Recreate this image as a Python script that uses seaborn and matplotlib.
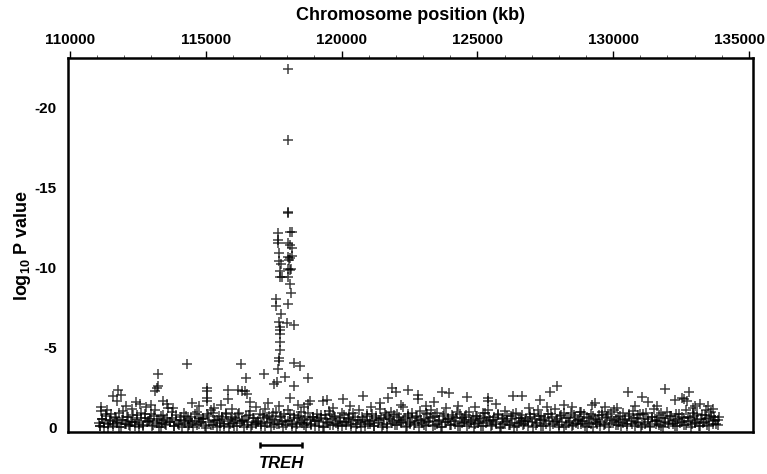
"""
treh_assoc.py
Association signal around TREH: log10 P per SNP vs chromosome position (kb).
"""

import pandas as pd
import matplotlib.pyplot as plt
import matplotlib.ticker as mticker
import matplotlib.transforms as mtransforms
import seaborn as sns

sns.set_theme(style='white')
plt.rcParams['font.family'] = ['Liberation Sans', 'DejaVu Sans']
plt.rcParams['mathtext.fontset'] = 'custom'
plt.rcParams['mathtext.bf'] = 'Liberation Sans:bold'
plt.rcParams['axes.unicode_minus'] = False
plt.rcParams.update({'text.color': 'black', 'axes.labelcolor': 'black',
                     'xtick.color': 'black', 'ytick.color': 'black'})

# ── data (positions in kb, log10 P values) ───────────────────────────────────
base_pos = [
    111050, 111120, 111180, 111260, 111310, 111390, 111470, 111520, 111600, 111690,
    111740, 111810, 111900, 111950, 112030, 112110, 112170, 112240, 112330, 112380,
    112460, 112540, 112610, 112690, 112760, 112840,
    112910, 112980, 113050, 113130, 113190, 113260, 113340, 113400, 113470, 113550,
    113610, 113690, 113760, 113820, 113900, 113970, 114040, 114120, 114180, 114250,
    114330, 114390, 114460, 114540, 114610, 114690, 114750, 114830,
    114900, 114970, 115040, 115110, 115180, 115260, 115320, 115400, 115470, 115540,
    115610, 115680, 115760, 115820, 115900, 115970, 116040, 116110, 116190, 116250,
    116330, 116400, 116470, 116540, 116610, 116690, 116760, 116840,
    116910, 116980, 117050, 117130, 117190, 117260, 117330, 117400, 117470, 117540,
    117610, 117680, 117750, 117820, 117890, 117960, 118030, 118100, 118170, 118240,
    118310, 118380, 118450, 118520, 118600, 118670, 118740, 118820,
    118890, 118960, 119030, 119100, 119170, 119240, 119310, 119380, 119450, 119520,
    119590, 119660, 119730, 119800, 119870, 119940, 120010, 120080, 120150, 120220,
    120290, 120360, 120430, 120500, 120570, 120640, 120710, 120780, 120850,
    120920, 120990, 121060, 121130, 121200, 121270, 121340, 121410, 121480, 121550,
    121620, 121690, 121760, 121830, 121900, 121970, 122040, 122110, 122180, 122250,
    122320, 122390, 122460, 122530, 122600, 122670, 122740, 122810, 122880,
    122950, 123020, 123090, 123160, 123230, 123300, 123370, 123440, 123510, 123580,
    123650, 123720, 123790, 123860, 123930, 124000, 124070, 124140, 124210, 124280,
    124350, 124420, 124490, 124560, 124630, 124700, 124770, 124840,
    124910, 124980, 125050, 125120, 125190, 125260, 125330, 125400, 125470, 125540,
    125610, 125680, 125750, 125820, 125890, 125960, 126030, 126100, 126170, 126240,
    126310, 126380, 126450, 126520, 126590, 126660, 126730, 126800, 126870,
    126940, 127010, 127080, 127150, 127220, 127290, 127360, 127430, 127500, 127570,
    127640, 127710, 127780, 127850, 127920, 127990, 128060, 128130, 128200, 128270,
    128340, 128410, 128480, 128550, 128620, 128690, 128760, 128830,
    128900, 128970, 129040, 129110, 129180, 129250, 129320, 129390, 129460, 129530,
    129600, 129670, 129740, 129810, 129880, 129950, 130020, 130090, 130160, 130230,
    130300, 130370, 130440, 130510, 130580, 130650, 130720, 130790, 130860,
    130930, 131000, 131070, 131140, 131210, 131280, 131350, 131420, 131490, 131560,
    131630, 131700, 131770, 131840, 131910, 131980, 132050, 132120, 132190, 132260,
    132330, 132400, 132470, 132540, 132610, 132680, 132750, 132820, 132890,
    132960, 133030, 133100, 133170, 133240, 133310, 133380, 133450, 133520, 133590,
    133660, 133730, 133800, 133870,
]
base_logp = [
    -0.31, -0.12, -0.55, -0.08, -0.72, -0.24, -0.41, -0.9, -0.15, -0.63,
    -0.33, -0.05, -0.48, -1.05, -0.22, -0.7, -0.18, -0.38, -0.84, -0.1,
    -0.52, -0.27, -0.95, -0.14, -0.6, -0.35,
    -0.44, -0.9, -0.2, -1.1, -0.58, -0.07, -0.75, -0.3, -0.5, -0.16,
    -1.25, -0.4, -0.65, -0.11, -0.82, -0.26, -0.47, -0.06, -0.92, -0.34,
    -0.58, -0.19, -0.7, -0.09, -0.43, -1.0, -0.28, -0.55,
    -0.62, -0.13, -0.85, -0.37, -1.15, -0.21, -0.5, -0.04, -0.77, -0.32,
    -0.58, -0.15, -0.96, -0.42, -0.24, -0.68, -0.1, -0.53, -0.86, -0.29,
    -0.45, -0.08, -0.73, -0.36, -1.05, -0.18, -0.6, -0.25,
    -0.4, -0.85, -0.14, -0.6, -1.2, -0.3, -0.72, -0.05, -0.95, -0.48,
    -0.22, -1.35, -0.66, -0.35, -0.9, -0.17, -1.1, -0.52, -0.28, -0.8,
    -0.09, -0.62, -0.4, -1.0, -0.2, -0.7, -0.33, -0.55,
    -0.26, -0.7, -0.12, -0.9, -0.44, -0.6, -0.07, -0.82, -0.35, -1.05,
    -0.19, -0.55, -0.75, -0.3, -0.1, -0.65, -0.95, -0.4, -0.2, -0.58,
    -0.85, -0.14, -0.48, -0.7, -0.28, -1.1, -0.06, -0.52, -0.36,
    -0.75, -0.22, -0.46, -0.9, -0.13, -0.62, -0.34, -1.2, -0.05, -0.56,
    -0.8, -0.27, -0.68, -1.0, -0.41, -0.16, -0.88, -0.5, -0.3, -1.3,
    -0.6, -0.1, -0.77, -0.38, -0.95, -0.2, -0.66, -0.45, -1.05,
    -0.3, -0.58, -0.12, -0.85, -0.4, -1.1, -0.66, -0.2, -0.92, -0.48,
    -0.08, -0.73, -0.35, -1.25, -0.55, -0.18, -0.82, -0.42, -0.64, -0.1,
    -0.9, -0.29, -0.5, -0.7, -0.15, -1.0, -0.38, -0.6,
    -0.25, -0.78, -0.44, -0.1, -0.95, -0.6, -0.32, -1.15, -0.52, -0.16,
    -0.7, -0.38, -0.88, -0.06, -0.58, -0.28, -1.05, -0.46, -0.2, -0.74,
    -0.9, -0.34, -0.12, -0.62, -0.43, -0.82, -0.24, -0.55, -0.15,
    -0.68, -0.35, -0.9, -0.2, -1.1, -0.5, -0.76, -0.14, -0.6, -1.3,
    -0.42, -0.86, -0.26, -1.2, -0.55, -0.08, -0.72, -0.38, -0.94, -0.18,
    -0.62, -0.45, -0.1, -0.8, -0.3, -0.52, -0.98, -0.22,
    -0.45, -0.12, -0.7, -0.33, -0.88, -0.05, -0.56, -0.24, -0.8, -0.4,
    -1.0, -0.16, -0.62, -0.9, -0.3, -0.48, -1.15, -0.2, -0.7, -0.36,
    -0.1, -0.95, -0.54, -0.28, -0.78, -0.42, -1.05, -0.15, -0.6,
    -0.32, -0.85, -0.18, -0.58, -0.96, -0.4, -0.07, -0.7, -1.2, -0.26,
    -0.5, -0.82, -0.14, -0.64, -0.36, -1.0, -0.22, -0.76, -0.46, -0.1,
    -0.9, -0.55, -0.3, -0.68, -0.17, -1.1, -0.42, -0.6, -0.25,
    -0.72, -0.38, -0.9, -0.12, -0.55, -0.3, -0.8, -0.2, -0.62, -1.0,
    -0.44, -0.66, -0.28, -0.5,
]

low_pos = [
    111100, 111240, 111410, 111570, 111730, 111890, 112050, 112210, 112380, 112530,
    112700, 112860, 113030, 113190, 113360, 113510, 113690, 113840, 114020, 114180,
    114350, 114510, 114670, 114840, 115020, 115180, 115340, 115510, 115670, 115840,
    116010, 116160, 116330, 116500, 116670, 116840, 117020, 117170, 117350, 117510,
    117680, 117850, 118010, 118180, 118360, 118530, 118690, 118870, 119030, 119180,
    119360, 119510, 119680, 119860, 120010, 120180, 120360, 120520, 120690, 120850,
    121030, 121180, 121360, 121510, 121690, 121850, 122030, 122190, 122360, 122510,
    122690, 122850, 123030, 123180, 123350, 123520, 123680, 123850, 124030, 124180,
    124360, 124510, 124690, 124860, 125030, 125190, 125360, 125510, 125680, 125860,
    126020, 126190, 126350, 126530, 126680, 126850, 127030, 127180, 127360, 127510,
    127690, 127850, 128020, 128190, 128360, 128510, 128690, 128860, 129030, 129180,
    129350, 129520, 129690, 129850, 130030, 130180, 130350, 130510, 130690, 130850,
    131020, 131190, 131350, 131530, 131680, 131850, 132020, 132190, 132360, 132520,
    132690, 132850, 133020, 133190, 133350, 133520, 133690, 133860,
]
low_logp = [
    -0.12, -0.3, -0.05, -0.22, -0.4, -0.09, -0.27, -0.15, -0.35, -0.06,
    -0.2, -0.44, -0.1, -0.31, -0.04, -0.25, -0.38, -0.13, -0.18, -0.46,
    -0.08, -0.29, -0.16, -0.36, -0.03, -0.21, -0.42, -0.11, -0.26, -0.07,
    -0.33, -0.14, -0.45, -0.19, -0.05, -0.3, -0.23, -0.1, -0.39, -0.17,
    -0.28, -0.06, -0.41, -0.12, -0.24, -0.34, -0.08, -0.2, -0.43, -0.15,
    -0.05, -0.32, -0.18, -0.27, -0.1, -0.4, -0.22, -0.07, -0.36, -0.14,
    -0.25, -0.11, -0.47, -0.19, -0.04, -0.3, -0.16, -0.38, -0.09, -0.23,
    -0.34, -0.06, -0.2, -0.42, -0.13, -0.28, -0.05, -0.35, -0.17, -0.26,
    -0.1, -0.4, -0.22, -0.07, -0.31, -0.15, -0.44, -0.12, -0.24, -0.03,
    -0.37, -0.18, -0.09, -0.29, -0.21, -0.46, -0.06, -0.33, -0.14, -0.25,
    -0.11, -0.39, -0.2, -0.05, -0.32, -0.16, -0.27, -0.42, -0.08, -0.23,
    -0.35, -0.12, -0.26, -0.04, -0.41, -0.18, -0.3, -0.1, -0.22, -0.37,
    -0.07, -0.28, -0.15, -0.43, -0.2, -0.09, -0.33, -0.24, -0.13, -0.38,
    -0.19, -0.05, -0.31, -0.14, -0.4, -0.1, -0.26, -0.17,
]

dense_pos = [
    111175, 111315, 111485, 111645, 111805, 111965, 112125, 112285, 112455, 112605,
    112775, 112935, 113105, 113265, 113435, 113585, 113765, 113915, 114095, 114255,
    114425, 114585, 114745, 114915, 115095, 115255, 115415, 115585, 115745, 115915,
    116085, 116235, 116405, 116575, 116745, 116915, 117095, 117245, 117425, 117585,
    117755, 117925, 118085, 118255, 118435, 118605, 118765, 118945, 119105, 119255,
    119435, 119585, 119755, 119935, 120085, 120255, 120435, 120595, 120765, 120925,
    121105, 121255, 121435, 121585, 121765, 121925, 122105, 122265, 122435, 122585,
    122765, 122925, 123105, 123255, 123425, 123595, 123755, 123925, 124105, 124255,
    124435, 124585, 124765, 124935, 125105, 125265, 125435, 125585, 125755, 125935,
    126095, 126265, 126425, 126605, 126755, 126925, 127105, 127255, 127435, 127585,
    127765, 127925, 128095, 128265, 128435, 128585, 128765, 128935, 129105, 129255,
    129425, 129595, 129765, 129925, 130105, 130255, 130425, 130585, 130765, 130925,
    131095, 131265, 131425, 131605, 131755, 131925, 132095, 132265, 132435, 132595,
    132765, 132925, 133095, 133265, 133425, 133595, 133765, 133900,
]
dense_logp = [
    -0.58, -0.85, -0.47, -0.66, -0.93, -0.52, -0.71, -0.39, -0.8, -0.62,
    -0.9, -0.55, -0.74, -0.45, -0.83, -0.6, -0.97, -0.5, -0.69, -0.78,
    -0.42, -0.88, -0.63, -0.54, -0.76, -0.95, -0.48, -0.7, -0.86, -0.57,
    -0.65, -0.92, -0.5, -0.79, -0.61, -0.44, -0.84, -0.68, -0.56, -0.99,
    -0.73, -0.46, -0.88, -0.6, -0.77, -0.52, -0.94, -0.66, -0.49, -0.82,
    -0.58, -0.9, -0.67, -0.45, -0.8, -0.62, -0.96, -0.53, -0.71, -0.87,
    -0.49, -0.75, -0.6, -0.92, -0.55, -0.83, -0.68, -0.47, -0.9, -0.64,
    -0.78, -0.52, -0.95, -0.61, -0.73, -0.44, -0.86, -0.57, -0.69, -0.98,
    -0.63, -0.84, -0.5, -0.76, -0.58, -0.91, -0.66, -0.48, -0.81, -0.6,
    -0.72, -0.55, -0.93, -0.64, -0.46, -0.85, -0.59, -0.77, -0.52, -0.89,
    -0.67, -0.43, -0.8, -0.61, -0.94, -0.7, -0.54, -0.87, -0.63, -0.75,
    -0.5, -0.82, -0.66, -0.97, -0.57, -0.73, -0.48, -0.9, -0.62, -0.79,
    -0.85, -0.56, -0.71, -0.45, -0.92, -0.64, -0.77, -0.51, -0.88, -0.6,
    -0.69, -0.95, -0.53, -0.8, -0.58, -0.74, -0.47, -0.66,
]

mid_pos = [
    111141, 111141, 111583, 111767, 111878, 111730, 112430, 112577, 112050, 112280,
    111350, 112800, 113130, 113200, 113240, 113240, 113571, 113000, 113420, 113800,
    114308, 114500, 114760, 115044, 115044, 115044, 115030, 115300, 115560, 115817,
    115817, 115980, 116185, 116296, 116333, 116443, 116480, 116517, 116620, 116850,
    117143, 117300, 117511, 117622, 117658, 117700, 117700, 117720, 117730, 117730,
    117730, 117730, 117769, 117916, 117990, 118247, 118247, 118468, 118247, 118763,
    118763, 118836, 119315, 119463, 118100, 118400, 118600, 119700, 120052, 120300,
    120788, 121100, 121400, 121708, 121856, 122003, 122445, 122813, 122813, 122200,
    123100, 123400, 123697, 123955, 124300, 124617, 124900, 125390, 125390, 125700,
    126310, 126642, 126900, 127305, 127673, 127931, 128200, 128500, 128815, 129220,
    129330, 129700, 130140, 130545, 130800, 131060, 131280, 131600, 131907, 132275,
    132533, 132791, 132940, 133200, 133500, 133675, 132600, 132700, 133000, 133400,
]
mid_logp = [
    -1.3, -1.05, -2.0, -2.4, -2.05, -1.7, -1.6, -1.5, -1.35, -1.2,
    -1.15, -1.3, -2.3, -2.5, -2.6, -3.4, -1.5, -1.45, -1.7, -1.25,
    -4.0, -1.55, -1.35, -2.5, -2.3, -1.9, -1.7, -1.25, -1.45, -2.4,
    -1.8, -1.2, -2.35, -4.0, -2.3, -2.3, -3.1, -2.1, -1.6, -1.3,
    -3.4, -1.55, -2.75, -2.9, -3.7, -4.4, -4.2, -4.9, -5.4, -5.9,
    -6.1, -6.3, -7.1, -3.2, -6.55, -6.45, -4.05, -3.9, -2.6, -3.1,
    -1.5, -1.7, -1.7, -1.75, -1.9, -1.45, -1.3, -1.25, -1.8, -1.4,
    -2.0, -1.3, -1.55, -1.9, -2.5, -2.25, -2.35, -2.05, -1.8, -1.45,
    -1.35, -1.6, -2.25, -2.2, -1.4, -1.95, -1.3, -1.9, -1.7, -1.5,
    -2.0, -2.0, -1.25, -1.75, -2.25, -2.6, -1.45, -1.3, -1.0, -1.45,
    -1.55, -1.3, -1.25, -2.25, -1.4, -1.95, -1.6, -1.35, -2.45, -1.75,
    -1.9, -2.25, -1.25, -1.5, -1.35, -1.2, -1.8, -1.7, -1.4, -1.1,
]

peak_pos = [
    118038, 118038, 118038, 118038, 117647, 118100, 118185, 117647, 117672, 118038,
    118100, 118160, 117708, 118038, 118100, 118160, 118070, 117708, 117770, 118038,
    118100, 118135, 117733, 117733, 117794, 118038, 118100, 118125, 117586, 117586,
    118038, 117700,
]
peak_logp = [
    -22.4, -18.0, -13.4, -13.5, -12.2, -12.25, -12.25, -11.75, -11.55, -11.55,
    -11.45, -11.25, -10.9, -10.65, -10.6, -10.75, -10.5, -10.4, -10.25, -9.95,
    -9.85, -9.9, -9.8, -9.45, -9.4, -9.4, -9.0, -8.45, -8.05, -7.6,
    -7.75, -6.6,
]

x_ticks    = [110000, 115000, 120000, 125000, 130000, 135000]
y_ticks    = [0, -5, -10, -15, -20]
gene_name  = 'TREH'
gene_start = 116995
gene_end   = 118542

df = pd.concat([
    pd.DataFrame({'pos': base_pos,  'logp': base_logp}),
    pd.DataFrame({'pos': low_pos,   'logp': low_logp}),
    pd.DataFrame({'pos': dense_pos, 'logp': dense_logp}),
    pd.DataFrame({'pos': mid_pos,   'logp': mid_logp}),
    pd.DataFrame({'pos': peak_pos,  'logp': peak_logp}),
], ignore_index=True)

# ── plot ──────────────────────────────────────────────────────────────────────
fig = plt.figure(figsize=(7.67, 4.74), dpi=100)
ax = fig.add_axes([0.0887, 0.0886, 0.893, 0.789])

sns.scatterplot(data=df, x='pos', y='logp', ax=ax, marker='+',
                color='black', s=48, linewidth=1.1, alpha=0.75, legend=False)

ax.set_xlim(109927, 135147)
ax.set_ylim(0.25, -23.1)

ax.xaxis.tick_top()
ax.xaxis.set_label_position('top')
ax.set_xticks(x_ticks)
ax.set_xticklabels([str(t) for t in x_ticks])
ax.xaxis.set_minor_locator(mticker.MultipleLocator(1000))
ax.set_yticks(y_ticks)
ax.set_yticklabels([str(t) for t in y_ticks])
ax.yaxis.set_minor_locator(mticker.MultipleLocator(1))

ax.tick_params(axis='both', which='major', direction='out', length=5, width=1,
               color='black', labelsize=11, pad=3)
ax.tick_params(axis='both', which='minor', direction='out', length=2.5, width=0.6,
               color='#444444')
for lab in ax.get_xticklabels() + ax.get_yticklabels():
    lab.set_fontweight('bold')
# keep the last top label inside the figure
last = ax.get_xticklabels()[-1]
last.set_transform(last.get_transform() +
                   mtransforms.ScaledTranslation(-9 / 100, 0, fig.dpi_scale_trans))

ax.set_xlabel('Chromosome position (kb)', fontsize=13, fontweight='bold', labelpad=9)
ax.set_ylabel(r'log$_\mathbf{10}$ P value', fontsize=13, fontweight='bold', labelpad=1)

for sp in ax.spines.values():
    sp.set_color('black')
    sp.set_linewidth(1.8)

# gene bracket under the axis
trans = mtransforms.blended_transform_factory(ax.transData, ax.transAxes)
ax.plot([gene_start, gene_end], [-0.035, -0.035], color='black', lw=1.8,
        transform=trans, clip_on=False, solid_capstyle='butt')
for gx in (gene_start, gene_end):
    ax.plot([gx, gx], [-0.026, -0.044], color='black', lw=1.8,
            transform=trans, clip_on=False, solid_capstyle='butt')
ax.text((gene_start + gene_end) / 2, -0.083, gene_name, transform=trans,
        ha='center', va='center', fontsize=12, fontweight='bold', style='italic')

fig.savefig('out.png', dpi=100)
plt.close(fig)
print('Saved out.png')
